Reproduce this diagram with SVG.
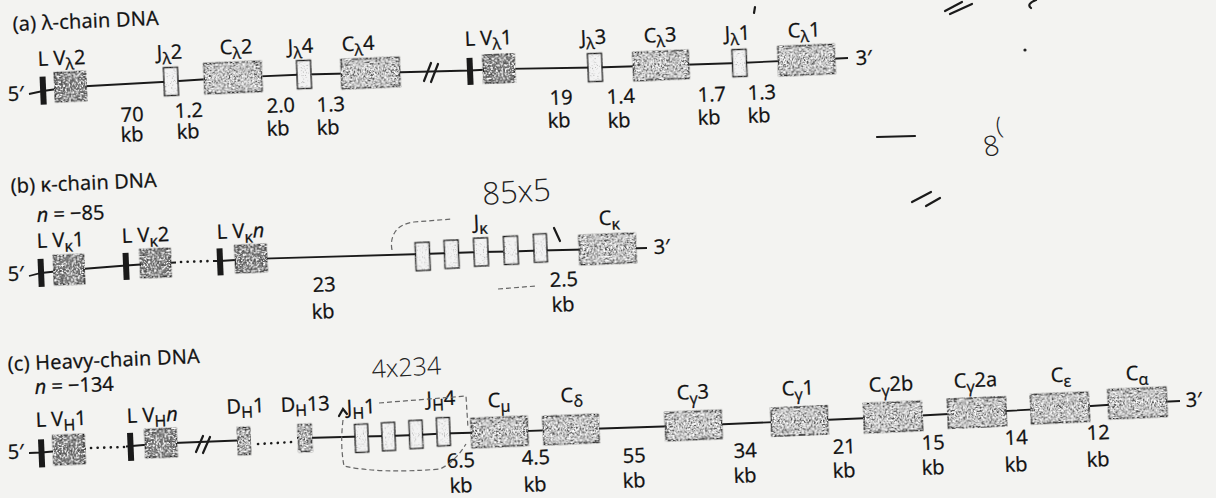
<svg xmlns="http://www.w3.org/2000/svg" width="1216" height="498" viewBox="0 0 1216 498">
<defs>
<style>
.t{font-family:"Open Sans","DejaVu Sans",sans-serif;font-size:20px;fill:#111;stroke:#111;stroke-width:0.3}
.s{font-size:16px}
.it{font-style:italic}
.ln{stroke:#1a1a1a;stroke-width:1.8;fill:none}
.dots{stroke:#1a1a1a;stroke-width:2.6;fill:none;stroke-dasharray:0.1 6.5;stroke-linecap:round}
.bar{fill:#1a1a1a}
.v{fill:#7c7c7c;stroke:#1a1a1a;stroke-width:1.5;filter:url(#grain)}
.c{fill:#cfcfcf;stroke:#1a1a1a;stroke-width:1.5;filter:url(#grain)}
.d{fill:#b8b8b8;stroke:#1a1a1a;stroke-width:1.4;filter:url(#grain)}
.j{fill:#f3f3f3;stroke:#1a1a1a;stroke-width:1.4;filter:url(#grainJ)}
.hw{font-family:"Open Sans","DejaVu Sans",sans-serif;font-weight:300;fill:#222}
.hl{stroke:#666;stroke-width:1.2;fill:none;stroke-dasharray:5 3}
.pen{stroke:#1a1a1a;stroke-width:2.2;fill:none;stroke-linecap:round}
</style>
<filter id="grain">
<feTurbulence type="fractalNoise" baseFrequency="0.55" numOctaves="3" seed="7" result="n"/>
<feColorMatrix in="n" type="matrix" values="0 0 0 0 0.08 0 0 0 0 0.08 0 0 0 0 0.08 5 0 0 0 -2.2" result="k"/>
<feColorMatrix in="n" type="matrix" values="0 0 0 0 1 0 0 0 0 1 0 0 0 0 1 0 5 0 0 -2.5" result="w"/>
<feComposite in="k" in2="SourceAlpha" operator="in" result="kk"/>
<feComposite in="w" in2="SourceAlpha" operator="in" result="ww"/>
<feMerge><feMergeNode in="SourceGraphic"/><feMergeNode in="kk"/><feMergeNode in="ww"/></feMerge>
</filter>
<filter id="grainJ">
<feTurbulence type="fractalNoise" baseFrequency="0.9" numOctaves="2" seed="3" result="n"/>
<feColorMatrix in="n" type="matrix" values="0 0 0 0 0.3 0 0 0 0 0.3 0 0 0 0 0.3 3.5 0 0 0 -2.0" result="k"/>
<feComposite in="k" in2="SourceAlpha" operator="in" result="kk"/>
<feMerge><feMergeNode in="SourceGraphic"/><feMergeNode in="kk"/></feMerge>
</filter>
</defs>
<rect width="1216" height="498" fill="#f3f3f1"/>

<!-- titles -->
<g id="titles">
<text class="t" x="13" y="31" transform="rotate(-2.4 13 31)" textLength="146" lengthAdjust="spacing">(a) λ-chain DNA</text>
<text class="t" x="11" y="193" transform="rotate(-2.4 11 193)" textLength="146" lengthAdjust="spacing">(b) κ-chain DNA</text>
<text class="t" x="37" y="222" transform="rotate(-2.4 37 222)"><tspan class="it">n</tspan> = −85</text>
<text class="t" x="8" y="371" transform="rotate(-2.4 8 371)" textLength="192" lengthAdjust="spacing">(c) Heavy-chain DNA</text>
<text class="t" x="35" y="394" transform="rotate(-2.4 35 394)"><tspan class="it">n</tspan> = −134</text>
</g>

<!-- connectors (DNA strands) -->
<g id="connectors">
<polyline class="ln" points="29,94 43,91 71,87 171,81.5 233,77.5 304,74.5 370,73 431,71.5 470,70.5 499,69 595,67.5 661,65.5 739,63 806,60 848,58"/>
<path class="pen" d="M424 81 L431 63 M431 82 L438 64" stroke-width="1.8"/>
<polyline class="ln" points="29,276 41,273 69,270 126,265.5 155.5,263.5 176,262.5"/>
<line class="dots" x1="181" y1="262" x2="212" y2="261"/>
<polyline class="ln" points="213,261 220,261 251,259 422.5,254 451.5,253 481,252 511,251.5 540.5,250.5 607.5,249 647,248"/>
<polyline class="ln" points="29,453 41.5,452.5 69,450 86,449"/>
<line class="dots" x1="91" y1="448" x2="124" y2="447"/>
<polyline class="ln" points="126,446.5 161,443.5 250,440"/>
<path class="pen" d="M196 452 L203 436 M203 453 L210 437" stroke-width="1.8"/>
<line class="dots" x1="258" y1="444" x2="292" y2="442"/>
<polyline class="ln" points="297,438 305,438 361.5,436.5 388.5,436 416,435 443.5,433.5 499.5,432 571,429.5 693.5,425.5 799.5,421 893,417 977,412.5 1060,408 1137.5,403 1180,401"/>
</g>

<!-- end labels -->
<g id="ends">
<text class="t" x="8" y="101" transform="rotate(-2.4 8 101)">5′</text>
<text class="t" x="856" y="65" transform="rotate(-2.4 856 65)">3′</text>
<text class="t" x="8" y="281" transform="rotate(-2.4 8 281)">5′</text>
<text class="t" x="654" y="254" transform="rotate(-2.4 654 254)">3′</text>
<text class="t" x="8" y="459" transform="rotate(-2.4 8 459)">5′</text>
<text class="t" x="1186" y="407" transform="rotate(-2.4 1186 407)">3′</text>
</g>

<!-- row a nodes -->
<g id="a-LVl2" transform="rotate(-2.4 60 87)">
<rect class="bar" x="40" y="76" width="6" height="28"/>
<rect class="v" x="55" y="72.5" width="31" height="29"/>
<text class="t" x="39" y="65">L V<tspan class="s" dy="5">λ</tspan><tspan dy="-5">2</tspan></text>
</g>
<g id="a-Jl2" transform="rotate(-2.4 171 81.5)">
<rect class="j" x="164" y="67.5" width="14" height="28"/>
<text class="t" x="158" y="59">J<tspan class="s" dy="5">λ</tspan><tspan dy="-5">2</tspan></text>
</g>
<g id="a-Cl2" transform="rotate(-2.4 233 77.5)">
<rect class="c" x="204.5" y="62.5" width="57" height="30"/>
<text class="t" x="221" y="54">C<tspan class="s" dy="5">λ</tspan><tspan dy="-5">2</tspan></text>
</g>
<g id="a-Jl4" transform="rotate(-2.4 304 74.5)">
<rect class="j" x="297" y="60.5" width="14" height="28"/>
<text class="t" x="289" y="53">J<tspan class="s" dy="5">λ</tspan><tspan dy="-5">4</tspan></text>
</g>
<g id="a-Cl4" transform="rotate(-2.4 370.5 73)">
<rect class="c" x="341.5" y="58.5" width="58" height="29"/>
<text class="t" x="343" y="50">C<tspan class="s" dy="5">λ</tspan><tspan dy="-5">4</tspan></text>
</g>
<g id="a-LVl1" transform="rotate(-2.4 490 70)">
<rect class="bar" x="467" y="57" width="6" height="27"/>
<rect class="v" x="483.5" y="55" width="31" height="28"/>
<text class="t" x="466" y="45">L V<tspan class="s" dy="5">λ</tspan><tspan dy="-5">1</tspan></text>
</g>
<g id="a-Jl3" transform="rotate(-2.4 595 67.5)">
<rect class="j" x="588" y="53.5" width="14" height="28"/>
<text class="t" x="582" y="44">J<tspan class="s" dy="5">λ</tspan><tspan dy="-5">3</tspan></text>
</g>
<g id="a-Cl3" transform="rotate(-2.4 661 65.5)">
<rect class="c" x="633.5" y="51.5" width="55" height="28"/>
<text class="t" x="645" y="42">C<tspan class="s" dy="5">λ</tspan><tspan dy="-5">3</tspan></text>
</g>
<g id="a-Jl1" transform="rotate(-2.4 739.5 63)">
<rect class="j" x="732.5" y="49.5" width="14" height="27"/>
<text class="t" x="726" y="40">J<tspan class="s" dy="5">λ</tspan><tspan dy="-5">1</tspan></text>
</g>
<g id="a-Cl1" transform="rotate(-2.4 806.5 60)">
<rect class="c" x="778.5" y="45.5" width="56" height="29"/>
<text class="t" x="789" y="37">C<tspan class="s" dy="5">λ</tspan><tspan dy="-5">1</tspan></text>
</g>

<!-- row b nodes -->
<g id="b-LVk1" transform="rotate(-2.4 60 270)">
<rect class="bar" x="38" y="258" width="6" height="28"/>
<rect class="v" x="54" y="255.5" width="30" height="29"/>
<text class="t" x="38" y="247">L V<tspan class="s" dy="5">κ</tspan><tspan dy="-5">1</tspan></text>
</g>
<g id="b-LVk2" transform="rotate(-2.4 145 264)">
<rect class="bar" x="123" y="252" width="6" height="27"/>
<rect class="v" x="140.5" y="249.5" width="30" height="28"/>
<text class="t" x="123" y="242">L V<tspan class="s" dy="5">κ</tspan><tspan dy="-5">2</tspan></text>
</g>
<g id="b-LVkn" transform="rotate(-2.4 240 260)">
<rect class="bar" x="217" y="247.5" width="6" height="27"/>
<rect class="v" x="235.5" y="245.5" width="31" height="27"/>
<text class="t" x="218" y="238">L V<tspan class="s" dy="5">κ</tspan><tspan dy="-5" class="it">n</tspan></text>
</g>
<g id="b-Jk" transform="rotate(-2.4 481 252)">
<rect class="j" x="415.5" y="240" width="14" height="28"/>
<rect class="j" x="444.5" y="239" width="14" height="28"/>
<rect class="j" x="474" y="238" width="14" height="28"/>
<rect class="j" x="504" y="237.5" width="14" height="28"/>
<rect class="j" x="534" y="236.5" width="13" height="28"/>
<text class="t" x="475" y="229">J<tspan class="s" dy="5">κ</tspan></text>
</g>
<g id="b-Ck" transform="rotate(-2.4 607.5 249)">
<rect class="c" x="579.5" y="234.5" width="56" height="29"/>
<text class="t" x="600" y="225">C<tspan class="s" dy="5">κ</tspan></text>
</g>

<!-- row c nodes -->
<g id="c-LVH1" transform="rotate(-2.4 60 451)">
<rect class="bar" x="38.5" y="438.5" width="6" height="28"/>
<rect class="v" x="53.5" y="435.5" width="31" height="29"/>
<text class="t" x="37" y="426">L V<tspan class="s" dy="5">H</tspan><tspan dy="-5">1</tspan></text>
</g>
<g id="c-LVHn" transform="rotate(-2.4 150 444)">
<rect class="bar" x="127.5" y="432" width="6" height="28"/>
<rect class="v" x="145.5" y="429.5" width="31" height="28"/>
<text class="t" x="128" y="422">L V<tspan class="s" dy="5">H</tspan><tspan dy="-5" class="it">n</tspan></text>
</g>
<g id="c-DH1" transform="rotate(-2.4 244 441)">
<rect class="d" x="238" y="427.5" width="12" height="27"/>
<text class="t" x="228" y="413">D<tspan class="s" dy="5">H</tspan><tspan dy="-5">1</tspan></text>
</g>
<g id="c-DH13" transform="rotate(-2.4 305 438)">
<rect class="d" x="298.5" y="424.5" width="13" height="27"/>
<text class="t" x="282" y="411">D<tspan class="s" dy="5">H</tspan><tspan dy="-5">13</tspan></text>
</g>
<g id="c-JH" transform="rotate(-2.4 402 435)">
<rect class="j" x="355" y="422.5" width="13" height="28"/>
<rect class="j" x="382" y="422" width="13" height="28"/>
<rect class="j" x="409.5" y="421" width="13" height="28"/>
<rect class="j" x="437" y="419.5" width="13" height="28"/>
<text class="t" x="348" y="412">J<tspan class="s" dy="5">H</tspan><tspan dy="-5">1</tspan></text>
<text class="t" x="428" y="407">J<tspan class="s" dy="5">H</tspan><tspan dy="-5">4</tspan></text>
</g>
<g id="c-Cmu" transform="rotate(-2.4 499.5 432)">
<rect class="c" x="471.5" y="417.5" width="56" height="29"/>
<text class="t" x="489" y="407">C<tspan class="s" dy="5">μ</tspan></text>
</g>
<g id="c-Cdelta" transform="rotate(-2.4 571 429.5)">
<rect class="c" x="543.5" y="415.5" width="55" height="28"/>
<text class="t" x="562" y="402">C<tspan class="s" dy="5">δ</tspan></text>
</g>
<g id="c-Cg3" transform="rotate(-2.4 693.5 425.5)">
<rect class="c" x="665.5" y="411.5" width="56" height="28"/>
<text class="t" x="678" y="399">C<tspan class="s" dy="5">γ</tspan><tspan dy="-5">3</tspan></text>
</g>
<g id="c-Cg1" transform="rotate(-2.4 799.5 421)">
<rect class="c" x="771.5" y="407" width="56" height="28"/>
<text class="t" x="783" y="395">C<tspan class="s" dy="5">γ</tspan><tspan dy="-5">1</tspan></text>
</g>
<g id="c-Cg2b" transform="rotate(-2.4 893 417)">
<rect class="c" x="864" y="402.5" width="58" height="29"/>
<text class="t" x="870" y="391">C<tspan class="s" dy="5">γ</tspan><tspan dy="-5">2b</tspan></text>
</g>
<g id="c-Cg2a" transform="rotate(-2.4 977 412.5)">
<rect class="c" x="948" y="398" width="58" height="29"/>
<text class="t" x="955" y="387">C<tspan class="s" dy="5">γ</tspan><tspan dy="-5">2a</tspan></text>
</g>
<g id="c-Ceps" transform="rotate(-2.4 1060 408)">
<rect class="c" x="1031" y="393.5" width="58" height="29"/>
<text class="t" x="1052" y="382">C<tspan class="s" dy="5">ε</tspan></text>
</g>
<g id="c-Calpha" transform="rotate(-2.4 1137.5 403)">
<rect class="c" x="1108.5" y="388.5" width="58" height="29"/>
<text class="t" x="1127" y="380">C<tspan class="s" dy="5">α</tspan></text>
</g>

<!-- distance labels -->
<g id="distances">
<text class="t" x="121" y="122" transform="rotate(-2.4 121 122)">70</text>
<text class="t" x="121" y="142" transform="rotate(-2.4 121 142)">kb</text>
<text class="t" x="175" y="118" transform="rotate(-2.4 175 118)">1.2</text>
<text class="t" x="177" y="139" transform="rotate(-2.4 177 139)">kb</text>
<text class="t" x="267" y="113" transform="rotate(-2.4 267 113)">2.0</text>
<text class="t" x="267" y="136" transform="rotate(-2.4 267 136)">kb</text>
<text class="t" x="317" y="112" transform="rotate(-2.4 317 112)">1.3</text>
<text class="t" x="317" y="135" transform="rotate(-2.4 317 135)">kb</text>
<text class="t" x="550" y="105" transform="rotate(-2.4 550 105)">19</text>
<text class="t" x="548" y="128" transform="rotate(-2.4 548 128)">kb</text>
<text class="t" x="607" y="104" transform="rotate(-2.4 607 104)">1.4</text>
<text class="t" x="608" y="128" transform="rotate(-2.4 608 128)">kb</text>
<text class="t" x="698" y="102" transform="rotate(-2.4 698 102)">1.7</text>
<text class="t" x="698" y="125" transform="rotate(-2.4 698 125)">kb</text>
<text class="t" x="748" y="100" transform="rotate(-2.4 748 100)">1.3</text>
<text class="t" x="748" y="123" transform="rotate(-2.4 748 123)">kb</text>

<text class="t" x="313" y="292" transform="rotate(-2.4 313 292)">23</text>
<text class="t" x="312" y="319" transform="rotate(-2.4 312 319)">kb</text>
<text class="t" x="550" y="287" transform="rotate(-2.4 550 287)">2.5</text>
<text class="t" x="552" y="312" transform="rotate(-2.4 552 312)">kb</text>

<text class="t" x="447" y="468" transform="rotate(-2.4 447 468)">6.5</text>
<text class="t" x="450" y="493" transform="rotate(-2.4 450 493)">kb</text>
<text class="t" x="522" y="465" transform="rotate(-2.4 522 465)">4.5</text>
<text class="t" x="524" y="492" transform="rotate(-2.4 524 492)">kb</text>
<text class="t" x="623" y="463" transform="rotate(-2.4 623 463)">55</text>
<text class="t" x="623" y="488" transform="rotate(-2.4 623 488)">kb</text>
<text class="t" x="734" y="458" transform="rotate(-2.4 734 458)">34</text>
<text class="t" x="734" y="483" transform="rotate(-2.4 734 483)">kb</text>
<text class="t" x="833" y="454" transform="rotate(-2.4 833 454)">21</text>
<text class="t" x="833" y="478" transform="rotate(-2.4 833 478)">kb</text>
<text class="t" x="922" y="450" transform="rotate(-2.4 922 450)">15</text>
<text class="t" x="922" y="475" transform="rotate(-2.4 922 475)">kb</text>
<text class="t" x="1005" y="445" transform="rotate(-2.4 1005 445)">14</text>
<text class="t" x="1005" y="472" transform="rotate(-2.4 1005 472)">kb</text>
<text class="t" x="1087" y="440" transform="rotate(-2.4 1087 440)">12</text>
<text class="t" x="1087" y="467" transform="rotate(-2.4 1087 467)">kb</text>
</g>

<!-- handwritten annotations -->
<g id="annotations">
<text class="hw" x="483" y="205" font-size="31" transform="rotate(-4 483 205)">85x5</text>
<text class="hw" x="372" y="378" font-size="25" transform="rotate(-3 372 378)">4x234</text>
<text class="hw" x="985" y="157" font-size="28" font-weight="400" transform="rotate(-10 985 157)">8<tspan dy="-20" font-size="24">(</tspan></text>
<path class="hl" d="M392 250 Q390 240 395 232 Q400 224 414 222 L452 219"/>
<path class="pen" d="M554 228 L560 241" stroke-width="1.2" stroke="#555"/>
<path class="hl" d="M498 289 L536 286"/>
<path class="hl" d="M379 403 L466 396 L468 428"/>
<path class="hl" d="M343 420 Q340 445 344 466 Q380 474 440 469 Q455 462 466 444"/>
<path class="pen" d="M339 416 L343 409 L347 414" stroke-width="1.2" stroke="#555"/>
<path class="pen" d="M945 11 L962 2 M950 14 L972 4"/>
<path class="pen" d="M1036 0 Q1026 4 1031 8"/>
<circle cx="1025" cy="50" r="1.6" fill="#222"/>
<path class="pen" d="M877 137 L915 136" stroke-width="2.6"/>
<path class="pen" d="M912 202 L931 192 M926 206 L940 198"/>
<path class="pen" d="M755 7 L754 13" stroke-width="1.2"/>
</g>
</svg>
